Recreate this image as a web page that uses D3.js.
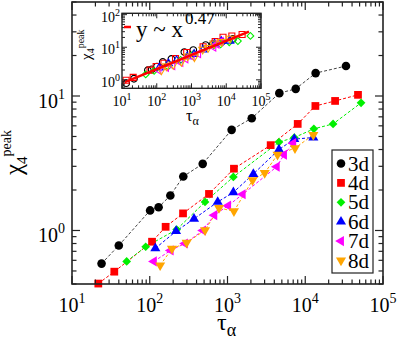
<!DOCTYPE html>
<html>
<head>
<meta charset="utf-8">
<script src="https://cdn.jsdelivr.net/npm/d3@7"></script>
<style>
  body { margin: 0; background: #fff; }
  svg { display: block; font-family: "Liberation Serif", "Times New Roman", serif; }
</style>
</head>
<body>
<div id="chart"></div>
<script>
// series labels and colours
var dims = ["3d", "4d", "5d", "6d", "7d", "8d"];
var colors = ["#000000", "#ff0000", "#00f000", "#0000ff", "#ff00ff", "#ffa500"];

// main panel: tau_alpha vs chi_4 peak
var tau3 = [24, 40, 101, 130, 184, 270, 480, 1130, 2050, 4640, 7540, 13600, 33400];
var chi3 = [0.567, 0.774, 1.41, 1.49, 1.82, 2.52, 3.13, 5.6, 6.84, 10.5, 11.3, 14.8, 16.7];
var tau4 = [21.8, 35, 107, 160, 268, 578, 1210, 3590, 8000, 13500, 24200, 47700];
var chi4 = [0.403, 0.494, 0.825, 1.065, 1.34, 1.87, 2.88, 4.31, 6.2, 8.43, 9.19, 10.2];
var tau5 = [50.5, 88.7, 222, 514, 1190, 4590, 7230, 12900, 22800, 52200];
var chi5 = [0.589, 0.757, 1.017, 1.63, 2.50, 4.54, 4.91, 5.70, 6.2, 8.89];
var tau6 = [118, 218, 371, 748, 1190, 2150, 4590, 7230, 12700];
var chi6 = [0.736, 0.988, 1.22, 1.63, 1.92, 2.63, 4.0, 4.78, 4.91];
var tau7 = [113, 186, 284, 484, 677, 1020, 1570, 4300, 5330, 7020];
var chi7 = [0.589, 0.711, 0.801, 1.0, 1.30, 1.53, 1.86, 2.98, 3.66, 4.46];
var tau8 = [136, 193, 298, 514, 778, 1210, 2100, 3010, 4400, 7380, 12700];
var chi8 = [0.551, 0.732, 0.811, 1.005, 1.47, 1.39, 2.37, 2.68, 3.66, 4.10, 5.14];

// inset: rescaled collapse
var itau3 = [13.2, 22.1, 55.4, 71.5, 101, 149, 264, 623, 1126, 2550, 4144, 7491, 15500];
var ichi3 = [0.79, 1.08, 1.97, 2.09, 2.55, 3.53, 4.38, 7.1, 8.2, 11.7, 12.6, 14.8, 17.9];
var itau4 = [13.1, 21, 64, 96, 161, 347, 728, 2156, 4800, 8076, 14490, 28590];
var ichi4 = [0.97, 1.19, 1.98, 2.56, 3.22, 4.49, 6.91, 10.3, 14.9, 20.2, 22.1, 24.5];
var itau5 = [48, 84, 211, 488, 1129, 4363, 6869, 12210, 21620, 49540];
var ichi5 = [1.47, 1.89, 2.54, 4.08, 6.25, 11.35, 12.3, 14.25, 15.5, 22.2];
var itau6 = [118, 218, 371, 748, 1190, 2150, 4590, 7230, 12700];
var ichi6 = [2.36, 3.16, 3.9, 5.2, 6.14, 8.4, 12.8, 15.3, 15.7];
var itau7 = [113, 186, 284, 484, 677, 1020, 1570, 4300, 5330, 7020];
var ichi7 = [2.0, 2.42, 2.72, 3.4, 4.42, 5.2, 6.32, 10.1, 12.4, 15.2];
var itau8 = [136, 193, 298, 514, 778, 1210, 2100, 3010, 4400, 7380, 12700];
var ichi8 = [1.98, 2.64, 2.92, 3.62, 5.29, 5.0, 8.53, 9.65, 13.2, 14.8, 18.5];
var fitTau = [12, 45000];
var fitChi = [0.85, 30];
var fitExp = "0.47";

var mainTau = [tau3, tau4, tau5, tau6, tau7, tau8];
var mainChi = [chi3, chi4, chi5, chi6, chi7, chi8];
var insTau = [itau3, itau4, itau5, itau6, itau7, itau8];
var insChi = [ichi3, ichi4, ichi5, ichi6, ichi7, ichi8];

var svg = d3.select('#chart').append('svg')
  .attr('width', 399)
  .attr('height', 340);

// marker shapes: circle, square, diamond, up / left / down triangle
function marker(i, s) {
  var types = [d3.symbolCircle, d3.symbolSquare, d3.symbolSquare, d3.symbolTriangle, d3.symbolTriangle, d3.symbolTriangle];
  var sizes = [58, 60, 38, 44, 44, 44];
  var rot = [0, 0, 45, 0, -90, 180];
  return { d: d3.symbol().type(types[i]).size(sizes[i] * s)(), rot: rot[i] };
}

function logTicks(domain) {
  var out = [];
  for (var k = Math.floor(Math.log10(domain[0])); k <= Math.ceil(Math.log10(domain[1])); k++) {
    for (var m = 1; m <= 9; m++) {
      var v = m * Math.pow(10, k);
      if (v >= domain[0] * 0.999 && v <= domain[1] * 1.001) out.push({ v: v, major: m === 1, e: k });
    }
  }
  return out;
}

// box with inward ticks on all four sides + labels on bottom/left
function frame(g, x, y, o) {
  var x0 = x.range()[0], x1 = x.range()[1], y0 = y.range()[0], y1 = y.range()[1];
  g.append('rect')
    .attr('x', x0).attr('y', y1).attr('width', x1 - x0).attr('height', y0 - y1)
    .attr('fill', o.fill || 'none').attr('stroke', '#222').attr('stroke-width', o.sw);

  logTicks(x.domain()).forEach(function(t) {
    var px = x(t.v), len = t.major ? o.major : o.minor;
    g.append('line').attr('x1', px).attr('x2', px).attr('y1', y0).attr('y2', y0 - len)
      .attr('stroke', '#222').attr('stroke-width', o.tw);
    g.append('line').attr('x1', px).attr('x2', px).attr('y1', y1).attr('y2', y1 + len)
      .attr('stroke', '#222').attr('stroke-width', o.tw);
    if (t.major) {
      var tx = g.append('text').attr('x', px).attr('y', y0 + o.xlab)
        .attr('text-anchor', 'middle').attr('font-size', o.fs);
      tx.append('tspan').text('10');
      tx.append('tspan').attr('font-size', o.sfs).attr('dy', -o.sup).text(t.e);
    }
  });
  logTicks(y.domain()).forEach(function(t) {
    var py = y(t.v), len = t.major ? o.major : o.minor;
    g.append('line').attr('x1', x0).attr('x2', x0 + len).attr('y1', py).attr('y2', py)
      .attr('stroke', '#222').attr('stroke-width', o.tw);
    g.append('line').attr('x1', x1).attr('x2', x1 - len).attr('y1', py).attr('y2', py)
      .attr('stroke', '#222').attr('stroke-width', o.tw);
    if (t.major) {
      var ty = g.append('text').attr('x', x0 - o.ylab).attr('y', py + o.ybase)
        .attr('text-anchor', 'end').attr('font-size', o.fs);
      ty.append('tspan').text('10');
      ty.append('tspan').attr('font-size', o.sfs).attr('dy', -o.sup).text(t.e);
    }
  });
}

// ---- main panel
var x = d3.scaleLog().domain([10, 1e5]).range([72, 383]);
var y = d3.scaleLog().domain([0.4, 50]).range([284, 2]);

var line = d3.line().x(function(d) { return x(d[0]); }).y(function(d) { return y(d[1]); });

dims.forEach(function(name, i) {
  var pts = mainTau[i].map(function(t, j) { return [t, mainChi[i][j]]; });
  svg.append('path').datum(pts)
    .attr('d', line)
    .attr('fill', 'none')
    .attr('stroke', i === 0 ? '#444' : colors[i])
    .attr('stroke-width', 1)
    .attr('stroke-dasharray', '3,2');
});
dims.forEach(function(name, i) {
  var m = marker(i, 1);
  svg.selectAll('.m' + i)
    .data(mainTau[i].map(function(t, j) { return [t, mainChi[i][j]]; }))
    .enter().append('path')
    .attr('d', m.d)
    .attr('transform', function(d) { return 'translate(' + x(d[0]) + ',' + y(d[1]) + ') rotate(' + m.rot + ')'; })
    .attr('fill', colors[i]);
});

frame(svg, x, y, { sw: 1.6, tw: 1.2, major: 8, minor: 4.5, fs: 20, sfs: 14, sup: 9, xlab: 27.5, ylab: 7, ybase: 11.5 });

// axis titles
var xt = svg.append('text').attr('x', 217).attr('y', 330).attr('font-size', 24);
xt.append('tspan').text('τ');
xt.append('tspan').attr('font-size', 18).attr('dy', 6).text('α');

var yt = svg.append('text').attr('transform', 'translate(22,175) rotate(-90)').attr('font-size', 25);
yt.append('tspan').text('χ');
yt.append('tspan').attr('font-size', 15).attr('dy', 5).text('4');
yt.append('tspan').attr('font-size', 14).attr('dy', -16).text('peak');

// legend
var leg = svg.append('g');
leg.append('rect').attr('x', 332).attr('y', 150).attr('width', 41).attr('height', 123)
  .attr('fill', '#fff').attr('stroke', '#222').attr('stroke-width', 1.2);
dims.forEach(function(name, i) {
  var cy = 163.5 + i * 19.4, m = marker(i, 1);
  leg.append('path').attr('d', m.d)
    .attr('transform', 'translate(341,' + cy + ') rotate(' + m.rot + ')')
    .attr('fill', colors[i]);
  leg.append('text').attr('x', 348).attr('y', cy + 7).attr('font-size', 21).text(name);
});

// ---- inset
var xi = d3.scaleLog().domain([10, 1e5]).range([122, 261]);
var yi = d3.scaleLog().domain([0.55, 110]).range([88.3, 13.3]);
var ins = svg.append('g');
ins.append('rect').attr('x', 122).attr('y', 13.3).attr('width', 139).attr('height', 75).attr('fill', '#fff');

dims.forEach(function(name, i) {
  var m = marker(i, 0.6);
  ins.selectAll('.im' + i)
    .data(insTau[i].map(function(t, j) { return [t, insChi[i][j]]; }))
    .enter().append('path')
    .attr('d', m.d)
    .attr('transform', function(d) { return 'translate(' + xi(d[0]) + ',' + yi(d[1]) + ') rotate(' + m.rot + ')'; })
    .attr('fill', 'none')
    .attr('stroke', colors[i])
    .attr('stroke-width', 1.1);
});

ins.append('line')
  .attr('x1', xi(fitTau[0])).attr('y1', yi(fitChi[0]))
  .attr('x2', xi(fitTau[1])).attr('y2', yi(fitChi[1]))
  .attr('stroke', '#ff0000').attr('stroke-width', 2.5);

frame(ins, xi, yi, { sw: 1.4, tw: 1, major: 5, minor: 3, fs: 14, sfs: 10, sup: 6, xlab: 18, ylab: 2, ybase: 7 });

// inset legend
ins.append('line').attr('x1', 124).attr('x2', 131).attr('y1', 27).attr('y2', 27)
  .attr('stroke', '#ff0000').attr('stroke-width', 2.5);
var fl = ins.append('text').attr('x', 136).attr('y', 37).attr('font-size', 23);
fl.append('tspan').text('y ~ x');
fl.append('tspan').attr('font-size', 17).attr('dy', -13).attr('dx', 2).text(fitExp);

var ixt = ins.append('text').attr('x', 186).attr('y', 121).attr('font-size', 16);
ixt.append('tspan').text('τ');
ixt.append('tspan').attr('font-size', 12).attr('dy', 4).text('α');

var iyt = ins.append('text').attr('transform', 'translate(91,60) rotate(-90)').attr('font-size', 15);
iyt.append('tspan').text('χ');
iyt.append('tspan').attr('font-size', 10).attr('dy', 3).text('4');
iyt.append('tspan').attr('font-size', 10).attr('dy', -10).text('peak');
</script>
</body>
</html>
